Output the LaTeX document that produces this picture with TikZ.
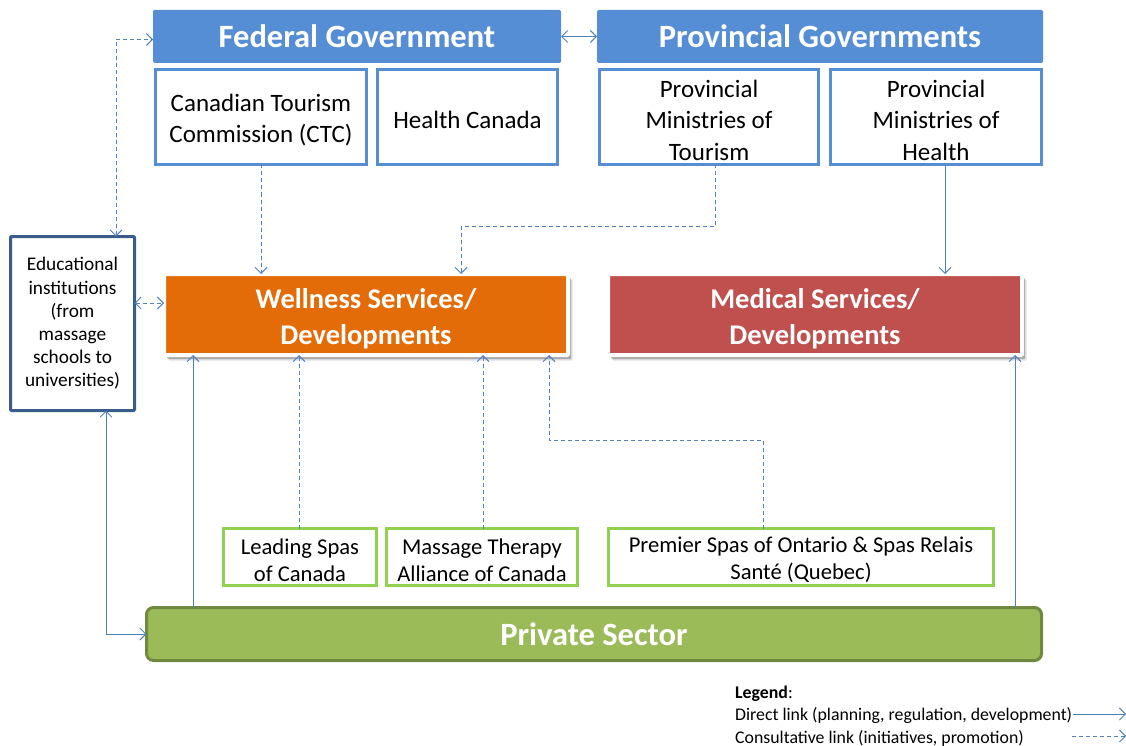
\documentclass[tikz,border=0pt]{standalone}
\usepackage{fontspec}
\setmainfont{Carlito}
\usetikzlibrary{arrows.meta,shadows,calc}
\definecolor{hdrblue}{RGB}{85,142,213}
\definecolor{boxblue}{RGB}{85,142,213}
\definecolor{edublue}{RGB}{56,93,138}
\definecolor{wellor}{RGB}{227,108,9}
\definecolor{medred}{RGB}{192,80,77}
\definecolor{spagreen}{RGB}{146,208,80}
\definecolor{privfill}{RGB}{155,187,89}
\definecolor{privdraw}{RGB}{113,137,63}
\definecolor{linkblue}{RGB}{79,129,189}
\tikzset{
  box/.style={anchor=north west, inner sep=0pt, outer sep=0pt, align=center},
  btext/.style={inner sep=0pt, outer sep=0pt, align=center},
  header/.style={box, fill=hdrblue, rounded corners=1.5pt, text=white, font=\fontsize{32.5}{38}\selectfont\bfseries},
  agency/.style={box, draw=boxblue, line width=3pt, fill=white},
  agencytext/.style={btext, font=\fontsize{25}{31.5}\selectfont},
  edubox/.style={box, draw=edublue, line width=3pt, fill=white, rounded corners=1pt, font=\fontsize{19.3}{23.2}\selectfont},
  servbox/.style={box, draw=white, line width=4pt, rounded corners=1pt,
    drop shadow={opacity=0.12, fill=black, shadow xshift=4.5pt, shadow yshift=-5.5pt},
    drop shadow={opacity=0.25, fill=black, shadow xshift=3pt, shadow yshift=-4pt}},
  servtext/.style={btext, text=white, font=\fontsize{28.5}{36}\selectfont\bfseries},
  spabox/.style={box, draw=spagreen, line width=3pt, fill=white},
  spatext/.style={btext, font=\fontsize{22.6}{27}\selectfont},
  privbox/.style={box, draw=privdraw, line width=3pt, fill=privfill, rounded corners=7pt, text=white, font=\fontsize{32.5}{38}\selectfont\bfseries},
  legtext/.style={anchor=west, inner sep=0pt, font=\fontsize{17.8}{21}\selectfont},
  direct/.style={draw=linkblue, line width=0.9pt, ->},
  consult/.style={draw=linkblue, line width=0.9pt, dash pattern=on 4pt off 3pt, ->},
}
\newcommand\boxtext[4]{\node[#1] (#2T) at ([yshift=#3]#2.center) {#4};}
\begin{document}
\begin{tikzpicture}[x=1pt,y=-1pt, >={Straight Barb[length=6pt, width=12pt, line width=0.9pt]}]
\useasboundingbox (0,0) rectangle (1126,746);
% headers
\node[header, minimum width=408pt, minimum height=53pt] (fed) at (153,10) {Federal Government};
\node[header, minimum width=446pt, minimum height=53pt] (prov) at (597,10) {Provincial Governments};
% agencies
\node[agency, minimum width=211pt, minimum height=95pt] (ctc) at (155.5,69.5) {};
\node[agency, minimum width=180pt, minimum height=95pt] (hc) at (377.5,69.5) {};
\node[agency, minimum width=219pt, minimum height=95pt] (ptour) at (599.5,69.5) {};
\node[agency, minimum width=211pt, minimum height=95pt] (phealth) at (830.5,69.5) {};
\boxtext{agencytext}{ctc}{-3pt}{Canadian Tourism\\Commission (CTC)}
\boxtext{agencytext}{hc}{-3pt}{Health Canada}
\boxtext{agencytext}{ptour}{-3pt}{Provincial\\Ministries of\\Tourism}
\boxtext{agencytext}{phealth}{-3pt}{Provincial\\Ministries of\\Health}
% educational
\node[edubox, minimum width=124pt, minimum height=174pt] (edu) at (10.5,236.5) {Educational\\institutions\\(from\\massage\\schools to\\universities)};
% services
\node[servbox, fill=wellor, minimum width=404pt, minimum height=81pt] (well) at (164,274) {};
\node[servbox, fill=medred, minimum width=414pt, minimum height=81pt] (med) at (608,274) {};
\boxtext{servtext}{well}{-4pt}{Wellness Services/\\Developments}
\boxtext{servtext}{med}{-4pt}{Medical Services/\\Developments}
% spas
\node[spabox, minimum width=153pt, minimum height=57pt] (lead) at (223.5,528.5) {};
\node[spabox, minimum width=191pt, minimum height=57pt] (mass) at (386.5,528.5) {};
\node[spabox, minimum width=385pt, minimum height=57pt] (prem) at (608.5,528.5) {};
\boxtext{spatext}{lead}{-3pt}{Leading Spas\\of Canada}
\boxtext{spatext}{mass}{-3pt}{Massage Therapy\\Alliance of Canada}
\boxtext{spatext}{prem}{-3pt}{Premier Spas of Ontario \& Spas Relais\\Santé (Quebec)}
% private sector
\node[privbox, minimum width=895pt, minimum height=53pt] (priv) at (146.5,607.5) {Private Sector};
% legend
\node[legtext] (leg) at (735,694) {\textbf{Legend}:};
\node[legtext] (legd) at (735,716) {Direct link (planning, regulation, development)};
\node[legtext] (legc) at (735,738) {Consultative link (initiatives, promotion)};
\coordinate (ld1) at (1073,714);
\coordinate (ld2) at (1126,714);
\coordinate (lc1) at (1072,736);
\coordinate (lc2) at (1126,736);
\draw[direct] (ld1) -- (ld2);
\draw[consult] (lc1) -- (lc2);
% connectors
\draw[direct, <->] (fed.east) -- (prov.west);
\coordinate (eduTop) at (116,0);
\draw[consult, <->] (eduTop |- edu.north) |- ([yshift=-3pt]fed.west);
\draw[consult] (ctc.south) -- (ctc.south |- well.north);
\coordinate (tA) at (461,226);
\coordinate (tB) at (715,0);
\draw[consult] (tB |- ptour.south) |- (tA) -- (tA |- well.north);
\coordinate (hA) at (945,0);
\draw[direct] (hA |- phealth.south) -- (hA |- med.north);
\coordinate (eW) at (0,303);
\draw[consult, <->] (edu.east |- eW) -- (well.west |- eW);
\coordinate (eB) at (106,0);
\draw[direct, <->] (eB |- edu.south) |- (priv.west);
\coordinate (pW) at (193,0);
\draw[direct] (pW |- priv.north) -- (pW |- well.south);
\coordinate (pM) at (1015,0);
\draw[direct] (pM |- priv.north) -- (pM |- med.south);
\coordinate (sL) at (299,0);
\draw[consult] (sL |- lead.north) -- (sL |- well.south);
\coordinate (sM) at (483,0);
\draw[consult] (sM |- mass.north) -- (sM |- well.south);
\coordinate (sP) at (763,0);
\coordinate (sQ) at (549,440);
\draw[consult] (sP |- prem.north) |- (sQ) -- (sQ |- well.south);
\end{tikzpicture}
\end{document}
